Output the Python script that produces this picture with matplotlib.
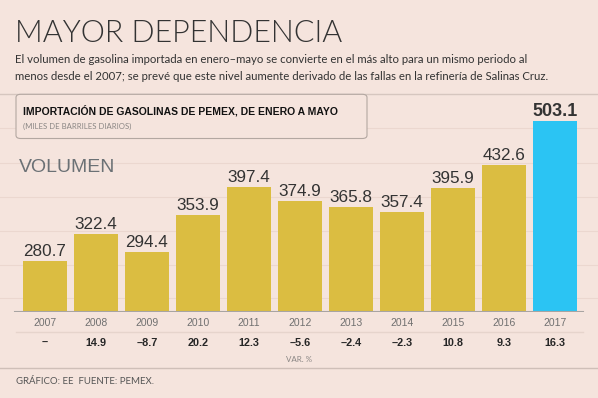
import numpy as np
import matplotlib
matplotlib.use("Agg")
import matplotlib.pyplot as plt
from matplotlib.patches import FancyBboxPatch
from matplotlib.lines import Line2D

anios = ["2007", "2008", "2009", "2010", "2011", "2012", "2013", "2014", "2015", "2016", "2017"]
volumen = [280.7, 322.4, 294.4, 353.9, 397.4, 374.9, 365.8, 357.4, 395.9, 432.6, 503.1]
var_pct = [None, 14.9, -8.7, 20.2, 12.3, -5.6, -2.4, -2.3, 10.8, 9.3, 16.3]
lineas_guia = [221, 274, 328, 382, 436, 491]

fondo = "#f5e4dd"
oro = "#dbbd41"
azul = "#2bc4f3"
W, H = 598, 398

fig = plt.figure(figsize=(W / 100, H / 100), dpi=100, facecolor=fondo)


def fx(x):
    return x / W


def fy(y):
    return 1 - y / H


lato = ["Lato", "DejaVu Sans"]
sans = ["Liberation Sans", "DejaVu Sans"]

# encabezado
fig.text(fx(15), fy(41.7), "MAYOR DEPENDENCIA", family=lato, fontsize=22, fontweight=300,
         color="#333333", va="baseline")
fig.text(fx(15), fy(62.7), "El volumen de gasolina importada en enero–mayo se convierte en el más alto para un mismo periodo al",
         family=lato, fontsize=8.2, color="#333333", va="baseline")
fig.text(fx(15), fy(79.5), "menos desde el 2007; se prevé que este nivel aumente derivado de las fallas en la refinería de Salinas Cruz.",
         family=lato, fontsize=8.2, color="#333333", va="baseline")

# ejes del grafico
base_px = 311.5
escala = 1.587
ax = fig.add_axes([0, fy(base_px), 1, base_px / H])
ax.set_facecolor("none")
x = np.arange(len(anios))
ax.set_xlim(-0.880, 10.845)
ax.set_ylim(200, 200 + base_px * escala)

for yv in lineas_guia:
    ax.axhline(yv, color="#ebd7cf", lw=0.8, zorder=0)

colores = [oro] * (len(anios) - 1) + [azul]
ax.bar(x, [v - 200 for v in volumen], bottom=200, width=0.873, color=colores, zorder=2)
ax.axhline(200, xmin=fx(15), xmax=fx(583), color="#a8a4a2", lw=1.5, zorder=3)

for i, v in enumerate(volumen):
    ultimo = i == len(volumen) - 1
    ax.annotate(f"{v:.1f}", (x[i], v), xytext=(0, 5), textcoords="offset pixels",
                ha="center", va="baseline", family=sans,
                fontsize=13 if ultimo else 12.3,
                fontweight="bold" if ultimo else "normal", color="#333333")

    ax.annotate(anios[i], (x[i], 200), xytext=(0, -11.2), textcoords="offset pixels",
                ha="center", va="center", family=sans, fontsize=7.5, color="#707070")
    txt = "–" if var_pct[i] is None else f"{var_pct[i]:.1f}".replace("-", "–")
    ax.annotate(txt, (x[i], 200), xytext=(0, -31.8), textcoords="offset pixels",
                ha="center", va="center", family=sans, fontsize=7.8,
                fontweight="bold", color="#262626", annotation_clip=False)

ax.axis("off")

# recuadro del titulo
caja = FancyBboxPatch((fx(16), fy(138.5)), fx(367) - fx(16), fy(94.3) - fy(138.5),
                      boxstyle="round,pad=0,rounding_size=0.008", transform=fig.transFigure,
                      facecolor=fondo, edgecolor="#b3a7a1", lw=0.8, zorder=5)
fig.add_artist(caja)
fig.text(fx(23), fy(114.3), "IMPORTACIÓN DE GASOLINAS DE PEMEX, DE ENERO A MAYO",
         family=sans, fontsize=7.5, fontweight="bold", color="#111111", va="baseline", zorder=6)
fig.text(fx(23), fy(129), "(MILES DE BARRILES DIARIOS)", family=lato, fontsize=5.6,
         color="#8a8684", va="baseline", zorder=6)

fig.text(fx(18.5), fy(172.3), "VOLUMEN", family=sans, fontsize=14, color="#6b7175", va="baseline")

# lineas separadoras
fig.add_artist(Line2D([0, 1], [fy(94.3)] * 2, color="#d6c6bf", lw=1, transform=fig.transFigure))
fig.add_artist(Line2D([fx(16), fx(583)], [fy(332.3)] * 2, color="#e6d4cc", lw=1, transform=fig.transFigure))
fig.add_artist(Line2D([0, 1], [fy(368.3)] * 2, color="#cfbfb8", lw=1, transform=fig.transFigure))

fig.text(0.5, fy(360), "VAR. %", family=lato, fontsize=5.8, color="#8a8684", ha="center", va="center")
fig.text(fx(16.5), fy(384), "GRÁFICO: EE  FUENTE: PEMEX.", family=lato, fontsize=6.9,
         color="#555555", va="baseline")

fig.savefig("out.png", dpi=100, facecolor=fondo)
